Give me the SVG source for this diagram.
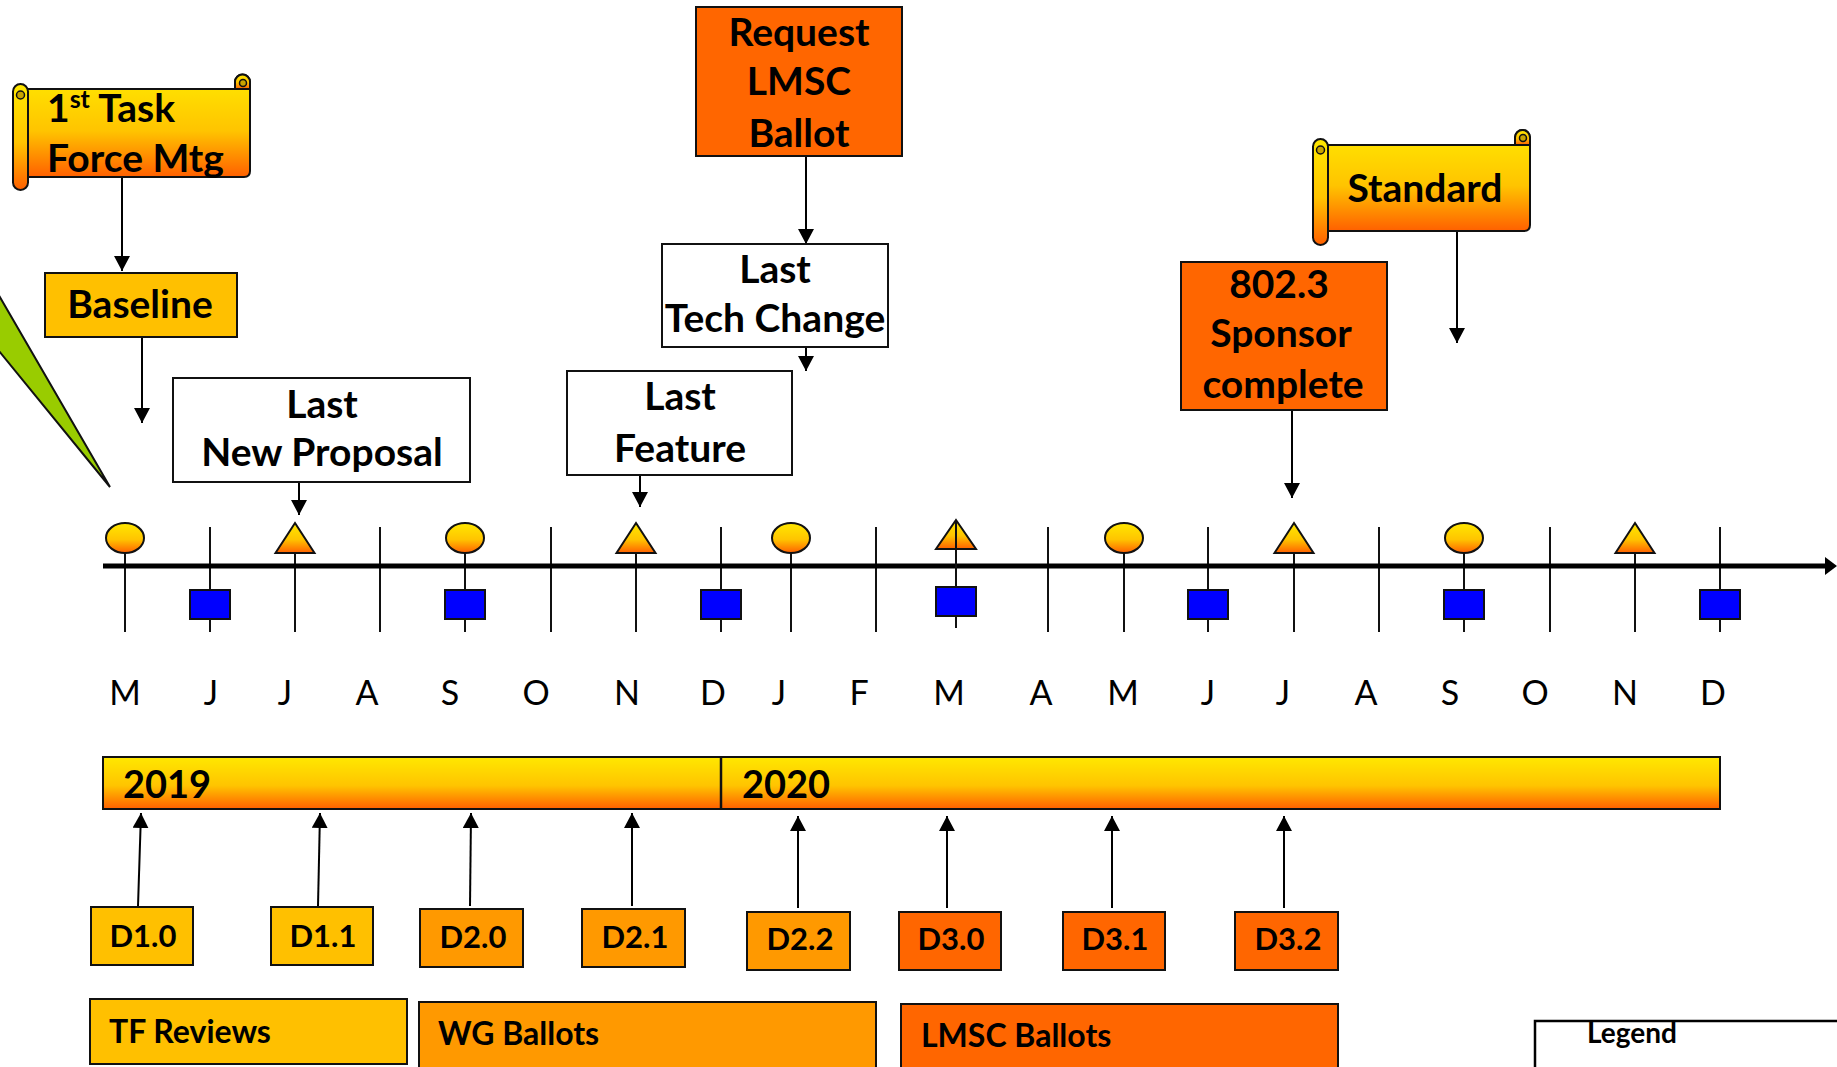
<svg xmlns="http://www.w3.org/2000/svg" width="1837" height="1067" viewBox="0 0 1837 1067">
<defs>
<linearGradient id="gy" x1="0" y1="0" x2="0" y2="1">
<stop offset="0" stop-color="#FFE800"/>
<stop offset="0.55" stop-color="#FFC400"/>
<stop offset="1" stop-color="#FF6000"/>
</linearGradient>
<marker id="ah" markerUnits="userSpaceOnUse" markerWidth="16" markerHeight="16" refX="15" refY="8" orient="auto">
<path d="M0,0 L15,8 L0,16 z" fill="#000"/>
</marker>
<style>
.t{font-family:Lato,"Liberation Sans",sans-serif;font-weight:bold;fill:#000}
.c{text-anchor:middle}
.big{font-size:39px}
.d{font-size:31px}
.bar{font-size:32px}
.mo{font-family:Lato,"Liberation Sans",sans-serif;font-size:34px;fill:#000;text-anchor:middle}
.bx{stroke:#111;stroke-width:2}
.gold{fill:#FFC000}
.org{fill:#FF9900}
.red{fill:#FF6600}
.wh{fill:#fff}
.grad{fill:url(#gy);stroke:#111;stroke-width:2}
.curl{fill:#C8A400;stroke:#111;stroke-width:1.5}
.tick{stroke:#111;stroke-width:2}
.sq{fill:#0000FF;stroke:#111;stroke-width:2}
.con{stroke:#000;stroke-width:2;fill:none;marker-end:url(#ah)}
</style>
</defs>
<rect width="1837" height="1067" fill="#fff"/>

<g id="callout">
<polygon points="-10,280 110,487 -10,340" fill="#99CC00" stroke="#111" stroke-width="2"/>
</g>

<g id="connectors">
<line class="con" x1="122" y1="177" x2="122" y2="271"/>
<line class="con" x1="142" y1="337" x2="142" y2="423"/>
<line class="con" x1="806" y1="156" x2="806" y2="244"/>
<line class="con" x1="806" y1="333" x2="806" y2="371"/>
<line class="con" x1="640" y1="463" x2="640" y2="507"/>
<line class="con" x1="299" y1="466" x2="299" y2="515"/>
<line class="con" x1="1457" y1="231" x2="1457" y2="343"/>
<line class="con" x1="1292" y1="410" x2="1292" y2="498"/>
<line class="con" x1="138" y1="906" x2="141" y2="813"/>
<line class="con" x1="318" y1="906" x2="320" y2="813"/>
<line class="con" x1="470" y1="906" x2="471" y2="813"/>
<line class="con" x1="632" y1="906" x2="632" y2="813"/>
<line class="con" x1="798" y1="908" x2="798" y2="816"/>
<line class="con" x1="947" y1="908" x2="947" y2="816"/>
<line class="con" x1="1112" y1="908" x2="1112" y2="816"/>
<line class="con" x1="1284" y1="908" x2="1284" y2="816"/>
</g>

<g id="node-task-force">
<path class="grad" d="M235,89 V82 A7.5,7.5 0 0 1 250,82 V171 Q250,177 244,177 H26 V89 Z"/>
<path class="grad" d="M235,89 V82 A7.5,7.5 0 0 1 250,82 V89 Z"/>
<circle class="curl" cx="243" cy="83" r="3.5"/>
<rect class="grad" x="13" y="84" width="15" height="106" rx="7.5"/>
<circle class="curl" cx="20.5" cy="95" r="4"/>
<text class="t big" x="47" y="122">1<tspan font-size="25" dy="-14">st</tspan><tspan dy="14"> Task</tspan></text>
<text class="t big" x="47" y="172">Force Mtg</text>
</g>

<g id="node-baseline">
<rect class="bx gold" x="45" y="273" width="192" height="64"/>
<text class="t big c" x="140" y="318">Baseline</text>
</g>

<g id="node-request">
<rect class="bx red" x="696" y="7" width="206" height="149"/>
<text class="t big c" x="799" y="46">Request</text>
<text class="t big c" x="799" y="95">LMSC</text>
<text class="t big c" x="799" y="147">Ballot</text>
</g>

<g id="node-last-tech">
<rect class="bx wh" x="662" y="244" width="226" height="103"/>
<text class="t big c" x="775" y="283">Last</text>
<text class="t big c" x="775" y="332">Tech Change</text>
</g>

<g id="node-last-feature">
<rect class="bx wh" x="567" y="371" width="225" height="104"/>
<text class="t big c" x="680" y="410">Last</text>
<text class="t big c" x="680" y="462">Feature</text>
</g>

<g id="node-last-proposal">
<rect class="bx wh" x="173" y="378" width="297" height="104"/>
<text class="t big c" x="322" y="418">Last</text>
<text class="t big c" x="322" y="466">New Proposal</text>
</g>

<g id="node-standard">
<path class="grad" d="M1515,145 V137.5 A7.5,7.5 0 0 1 1530,137.5 V225 Q1530,231 1524,231 H1326 V145 Z"/>
<path class="grad" d="M1515,145 V137.5 A7.5,7.5 0 0 1 1530,137.5 V145 Z"/>
<circle class="curl" cx="1523" cy="138" r="3.5"/>
<rect class="grad" x="1313" y="139" width="15" height="106" rx="7.5"/>
<circle class="curl" cx="1320.5" cy="150" r="4"/>
<text class="t big c" x="1425" y="202">Standard</text>
</g>

<g id="node-sponsor">
<rect class="bx red" x="1181" y="262" width="206" height="148"/>
<text class="t big c" x="1279" y="298">802.3</text>
<text class="t big c" x="1281" y="347">Sponsor</text>
<text class="t big c" x="1283" y="398">complete</text>
</g>

<g id="timeline">
<g class="tick">
<line x1="125" y1="540" x2="125" y2="632"/>
<line x1="210" y1="527" x2="210" y2="632"/>
<line x1="295" y1="540" x2="295" y2="632"/>
<line x1="380" y1="527" x2="380" y2="632"/>
<line x1="465" y1="540" x2="465" y2="632"/>
<line x1="551" y1="527" x2="551" y2="632"/>
<line x1="636" y1="540" x2="636" y2="632"/>
<line x1="721" y1="527" x2="721" y2="632"/>
<line x1="791" y1="540" x2="791" y2="632"/>
<line x1="876" y1="527" x2="876" y2="632"/>
<line x1="1048" y1="527" x2="1048" y2="632"/>
<line x1="1124" y1="540" x2="1124" y2="632"/>
<line x1="1208" y1="527" x2="1208" y2="632"/>
<line x1="1294" y1="540" x2="1294" y2="632"/>
<line x1="1379" y1="527" x2="1379" y2="632"/>
<line x1="1464" y1="540" x2="1464" y2="632"/>
<line x1="1550" y1="527" x2="1550" y2="632"/>
<line x1="1635" y1="540" x2="1635" y2="632"/>
<line x1="1720" y1="527" x2="1720" y2="632"/>
</g>
<line x1="103" y1="566" x2="1828" y2="566" stroke="#000" stroke-width="5"/>
<polygon points="1825,557 1837,566 1825,575" fill="#000"/>
<ellipse class="grad" cx="125" cy="538" rx="19" ry="15"/>
<ellipse class="grad" cx="465" cy="538" rx="19" ry="15"/>
<ellipse class="grad" cx="791" cy="538" rx="19" ry="15"/>
<ellipse class="grad" cx="1124" cy="538" rx="19" ry="15"/>
<ellipse class="grad" cx="1464" cy="538" rx="19" ry="15"/>
<polygon class="grad" points="295,523 314.5,553 275.5,553"/>
<polygon class="grad" points="636,523 655.5,553 616.5,553"/>
<polygon class="grad" points="956,520 976,549 936,549"/>
<line class="tick" x1="956" y1="520" x2="956" y2="628"/>
<polygon class="grad" points="1294,523 1313.5,553 1274.5,553"/>
<polygon class="grad" points="1635,523 1654.5,553 1615.5,553"/>
<rect class="sq" x="190" y="590" width="40" height="29"/>
<rect class="sq" x="445" y="590" width="40" height="29"/>
<rect class="sq" x="701" y="590" width="40" height="29"/>
<rect class="sq" x="936" y="587" width="40" height="29"/>
<rect class="sq" x="1188" y="590" width="40" height="29"/>
<rect class="sq" x="1444" y="590" width="40" height="29"/>
<rect class="sq" x="1700" y="590" width="40" height="29"/>
<text class="mo" x="125" y="705">M</text>
<text class="mo" x="211" y="705">J</text>
<text class="mo" x="285" y="705">J</text>
<text class="mo" x="367" y="705">A</text>
<text class="mo" x="450" y="705">S</text>
<text class="mo" x="536" y="705">O</text>
<text class="mo" x="627" y="705">N</text>
<text class="mo" x="713" y="705">D</text>
<text class="mo" x="779" y="705">J</text>
<text class="mo" x="859" y="705">F</text>
<text class="mo" x="949" y="705">M</text>
<text class="mo" x="1041" y="705">A</text>
<text class="mo" x="1123" y="705">M</text>
<text class="mo" x="1208" y="705">J</text>
<text class="mo" x="1283" y="705">J</text>
<text class="mo" x="1366" y="705">A</text>
<text class="mo" x="1450" y="705">S</text>
<text class="mo" x="1535" y="705">O</text>
<text class="mo" x="1625" y="705">N</text>
<text class="mo" x="1713" y="705">D</text>
</g>

<g id="node-years">
<rect class="grad" x="103" y="757" width="1617" height="52"/>
<line x1="721" y1="757" x2="721" y2="809" stroke="#111" stroke-width="2.5"/>
<text class="t" font-size="38" x="123" y="798">2019</text>
<text class="t" font-size="38" x="742" y="798">2020</text>
</g>

<g id="node-d10"><rect class="bx gold" x="91" y="907" width="102" height="58"/><text class="t d c" x="143" y="947">D1.0</text></g>
<g id="node-d11"><rect class="bx gold" x="271" y="907" width="102" height="58"/><text class="t d c" x="323" y="947">D1.1</text></g>
<g id="node-d20"><rect class="bx org" x="420" y="909" width="103" height="58"/><text class="t d c" x="473" y="948">D2.0</text></g>
<g id="node-d21"><rect class="bx org" x="582" y="909" width="103" height="58"/><text class="t d c" x="635" y="948">D2.1</text></g>
<g id="node-d22"><rect class="bx org" x="747" y="912" width="103" height="58"/><text class="t d c" x="800" y="950">D2.2</text></g>
<g id="node-d30"><rect class="bx red" x="899" y="912" width="102" height="58"/><text class="t d c" x="951" y="950">D3.0</text></g>
<g id="node-d31"><rect class="bx red" x="1063" y="912" width="102" height="58"/><text class="t d c" x="1115" y="950">D3.1</text></g>
<g id="node-d32"><rect class="bx red" x="1235" y="912" width="103" height="58"/><text class="t d c" x="1288" y="950">D3.2</text></g>

<g id="node-tf-reviews"><rect class="bx gold" x="90" y="999" width="317" height="65"/><text class="t bar" x="109" y="1043">TF Reviews</text></g>
<g id="node-wg-ballots"><rect class="bx org" x="419" y="1002" width="457" height="70"/><text class="t bar" x="438" y="1045">WG Ballots</text></g>
<g id="node-lmsc-ballots"><rect class="bx red" x="901" y="1004" width="437" height="70"/><text class="t bar" x="921" y="1047">LMSC Ballots</text></g>

<g id="legend">
<rect x="1535" y="1021" width="320" height="60" fill="#fff" stroke="#000" stroke-width="2.5"/>
<text class="t" font-size="28" x="1587" y="1043">Legend</text>
</g>
</svg>
